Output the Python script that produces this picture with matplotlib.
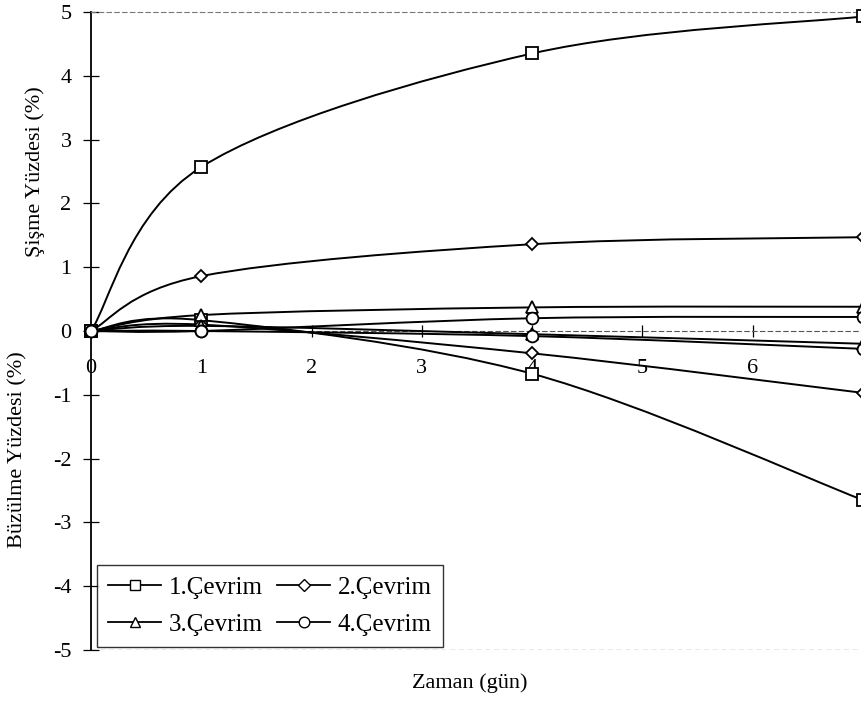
import numpy as np
import matplotlib.pyplot as plt
from matplotlib.path import Path
from matplotlib.patches import PathPatch
from matplotlib.lines import Line2D

plt.rcParams['font.family'] = ['Liberation Serif', 'DejaVu Serif']
plt.rcParams['axes.unicode_minus'] = False

gun = [0, 1, 4, 7]

# sisme (ust egriler)
sisme_1 = [0, 2.57, 4.35, 4.93]
sisme_2 = [0, 0.86, 1.36, 1.47]
sisme_3 = [0, 0.25, 0.37, 0.38]
sisme_4 = [0, 0.0, 0.2, 0.22]

# buzulme (alt egriler)
buzulme_1 = [0, 0.17, -0.67, -2.65]
buzulme_2 = [0, 0.1, -0.35, -0.97]
buzulme_3 = [0, 0.08, -0.05, -0.2]
buzulme_4 = [0, 0.0, -0.08, -0.28]

etiketler = ['1.Çevrim', '2.Çevrim', '3.Çevrim', '4.Çevrim']
isaretler = ['s', 'D', '^', 'o']
boyutlar = [8, 6.5, 8, 8.5]


def smooth_path(x, y):
    # Excel tarzi yumusak cizgi (Bezier)
    p = np.column_stack([x, y]).astype(float)
    n = len(p)
    verts = [p[0]]
    codes = [Path.MOVETO]
    for i in range(n - 1):
        p0 = p[max(i - 1, 0)]
        p1 = p[i]
        p2 = p[i + 1]
        p3 = p[min(i + 2, n - 1)]
        c1 = p1 + (p2 - p0) / 6
        c2 = p2 - (p3 - p1) / 6
        verts += [c1, c2, p2]
        codes += [Path.CURVE4] * 3
    return Path(verts, codes)


fig = plt.figure(figsize=(8.61, 7.05), dpi=100)
ax = fig.add_axes([91 / 861, 1 - 650 / 705, 772 / 861, 638 / 705])

seriler = [(sisme_1, buzulme_1), (sisme_2, buzulme_2),
           (sisme_3, buzulme_3), (sisme_4, buzulme_4)]

for (s, b), m, ms in zip(seriler, isaretler, boyutlar):
    for y in (s, b):
        ax.add_patch(PathPatch(smooth_path(gun, y), fill=False,
                               edgecolor='black', lw=1.4, zorder=3))
        ax.plot(gun, y, ls='none', marker=m, ms=ms, mfc='white',
                mec='black', mew=1.3, zorder=4, clip_on=False)

ax.set_xlim(0, 7)
ax.set_ylim(-5, 5)

ax.spines['bottom'].set_position(('data', 0))
ax.spines['bottom'].set_linestyle((0, (4, 3)))
ax.spines['bottom'].set_color('#555555')
ax.spines['bottom'].set_linewidth(0.8)
for k in ('top', 'right'):
    ax.spines[k].set_linestyle((0, (4, 3)))
    ax.spines[k].set_color('#777777')
    ax.spines[k].set_linewidth(0.8)
ax.spines['left'].set_linewidth(1.3)
ax.axhline(-5, color='#555555', lw=0.9, ls=(0, (4, 3)), zorder=1)

ax.set_xticks(range(0, 8))
ax.set_xticklabels([str(i) for i in range(0, 7)] + [''])
ax.set_yticks(range(-5, 6))
ax.tick_params(axis='x', direction='inout', length=9, width=0.9,
               labelsize=16, pad=16)
ax.tick_params(axis='y', direction='inout', length=12, width=0.9,
               labelsize=16, pad=8)

fig.text(35 / 861, 1 - 172 / 705, 'Şişme Yüzdesi (%)', rotation=90,
         ha='center', va='center', fontsize=16)
fig.text(18 / 861, 1 - 450 / 705, 'Büzülme Yüzdesi (%)', rotation=90,
         ha='center', va='center', fontsize=16)
fig.text(470 / 861, 1 - 683 / 705, 'Zaman (gün)', ha='center',
         va='center', fontsize=16)

handles = [Line2D([], [], color='black', lw=1.3, marker=m, ms=ms * 0.9,
                  mfc='white', mec='black') for m, ms in zip(isaretler, boyutlar)]
sira = [0, 2, 1, 3]
leg = ax.legend([handles[i] for i in sira], [etiketler[i] for i in sira],
                ncol=2, loc='lower left',
                bbox_to_anchor=(0.008, 0.004), borderaxespad=0,
                fontsize=18, frameon=True, fancybox=False,
                handlelength=2.1, handletextpad=0.3, columnspacing=0.6,
                borderpad=0.45, labelspacing=0.6)
leg.get_frame().set_edgecolor('black')
leg.get_frame().set_linewidth(1.0)

fig.savefig('out.png', dpi=100)
